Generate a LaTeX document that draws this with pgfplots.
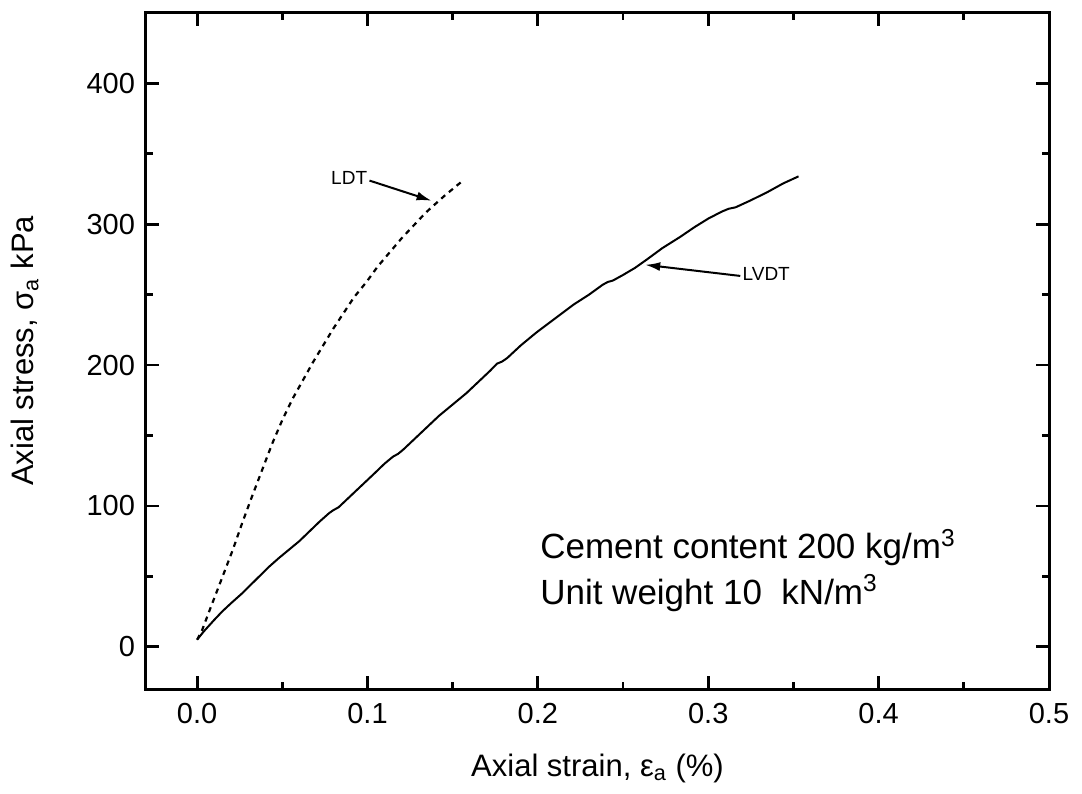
\documentclass[border=0pt]{standalone}
\usepackage{fontspec}
\setmainfont{Liberation Sans}
\usepackage{pgfplots}
\pgfplotsset{compat=1.18}
\usetikzlibrary{arrows.meta}

% stress-strain readings, LVDT (external) and LDT (local) measurements
\pgfplotstableread{
x      y
0.000  5
0.004  11
0.010  19
0.0147 25
0.020  31
0.0265 38
0.034  47
0.0424 57
0.048  63
0.054  69
0.060  75
0.066  82
0.072  89
0.0776 95
0.080  97
0.083  99
0.090  107
0.097  115
0.104  123
0.110  130
0.115  135
0.118  137
0.121  140
0.128  148
0.135  156
0.142  164
0.150  172
0.158  180
0.165  188
0.172  196
0.176  201
0.179  202.5
0.182  205
0.190  214
0.199  223
0.210  233
0.221  243
0.230  250
0.238  257
0.241  259
0.244  260
0.250  264
0.257  269
0.264  275
0.273  283
0.2835 291
0.292  298
0.300  304
0.308  309
0.312  311
0.316  312
0.325  317
0.335  323
0.344  329
0.353  334
}\lvdt

\pgfplotstableread{
x      y
0.000  5
0.003  12
0.008  28
0.015  50
0.021  69
0.0265 88
0.032  106
0.038  125
0.044  144
0.050  161
0.056  176
0.062  189
0.068  202
0.0735 213
0.080  226
0.086  237
0.092  248
0.0994 259
0.106  270
0.113  280
0.120  290
0.127  299
0.134  308
0.1376 312
0.145  320
0.150  325
0.156  331
}\ldt

\begin{document}
\begin{tikzpicture}
\useasboundingbox (0,0) rectangle (541pt,396.5pt);
\begin{axis}[
  at={(73pt,52pt)}, anchor=south west,
  scale only axis, width=451.5pt, height=338pt,
  xmin=-0.03, xmax=0.5, ymin=-30, ymax=450,
  xtick={0,0.1,...,0.5}, ytick={0,100,...,400},
  minor x tick num=1, minor y tick num=1,
  tick align=inside,
  major tick length=6.5pt, minor tick length=3.5pt,
  axis line style={line width=1.5pt},
  every tick/.style={black, line width=1.4pt},
  /pgf/number format/assume math mode=true,
  ticklabel style={font=\fontsize{14.5}{17}\selectfont},
  xticklabel style={/pgf/number format/.cd, fixed, fixed zerofill, precision=1, /tikz/.cd, yshift=-3.5pt},
  yticklabel style={xshift=-2pt},
  xlabel={Axial strain, ε\textsubscript{a} (\%)},
  ylabel={Axial stress, σ\textsubscript{a} kPa},
  label style={font=\fontsize{15.5}{18}\selectfont},
  xlabel style={at={(axis description cs:0.5,-0.117)}, anchor=center},
  ylabel style={at={(axis description cs:-0.134,0.5)}, anchor=center, rotate=0},
]
\addplot[black, line width=1pt] table[x=x, y=y] {\lvdt};
\addplot[black, line width=1.1pt, dash pattern=on 2.6pt off 2.4pt] table[x=x, y=y] {\ldt};

\draw[line width=1pt, -{Latex[length=7.5pt, width=4.5pt]}] (axis cs:0.1012,331) -- (axis cs:0.1376,316.7);
\node[anchor=east, inner sep=1pt, font=\fontsize{9.5}{11}\selectfont] at (axis cs:0.1012,333) {LDT};

\draw[line width=1pt, -{Latex[length=7.5pt, width=4.5pt]}] (axis cs:0.3188,263.3) -- (axis cs:0.263,271.2);
\node[anchor=west, inner sep=1pt, font=\fontsize{9.5}{11}\selectfont] at (axis cs:0.3188,265) {LVDT};

\node[anchor=west, inner sep=0pt, font=\fontsize{17.5}{20}\selectfont] at (axis cs:0.2012,70.5) {Cement content 200 kg/m\textsuperscript{3}};
\node[anchor=west, inner sep=0pt, font=\fontsize{17.5}{20}\selectfont] at (axis cs:0.2012,38) {Unit weight 10\ \ kN/m\textsuperscript{3}};
\end{axis}
\end{tikzpicture}
\end{document}
